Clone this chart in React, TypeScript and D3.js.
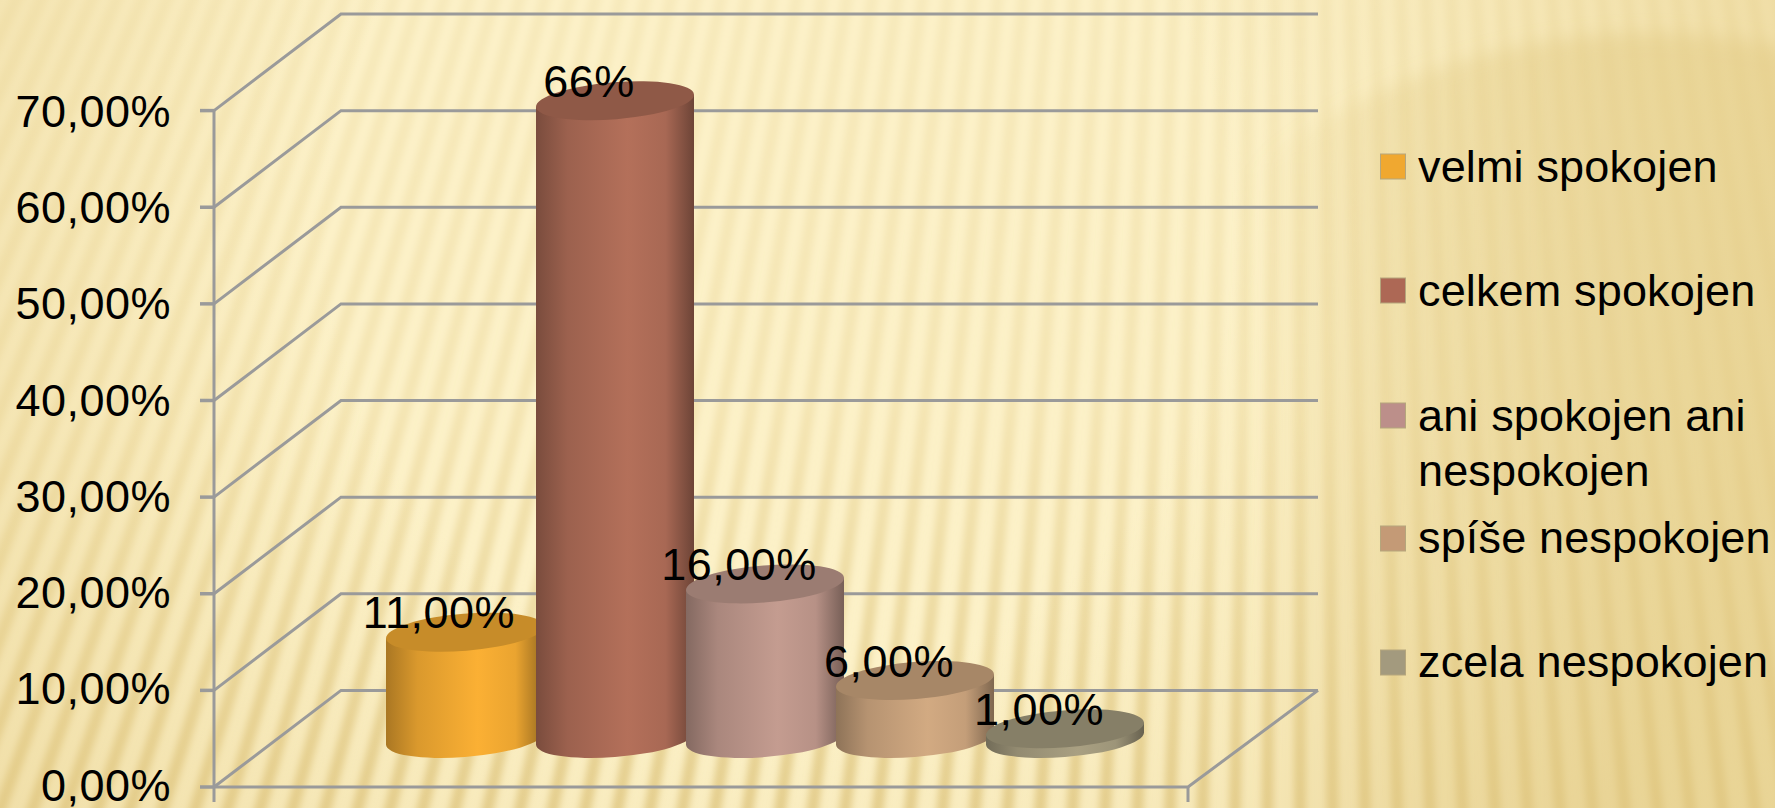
import React from "react";
import * as d3 from "d3";

const W = 1775;
const H = 808;

const categories = ["velmi spokojen", "celkem spokojen", "ani spokojen ani nespokojen", "spíše nespokojen", "zcela nespokojen"];
const values = [11, 66, 16, 6, 1];
const dataLabels = ["11,00%", "66%", "16,00%", "6,00%", "1,00%"];
const colors = ["#FBB034", "#B4705A", "#C49C90", "#D2AA82", "#A9A082"];
const swatchColors = ["#F0A830", "#AD6855", "#BC8F8A", "#C49A76", "#A39A7E"];
const legendLines = [["velmi spokojen"], ["celkem spokojen"], ["ani spokojen ani", "nespokojen"], ["spíše nespokojen"], ["zcela nespokojen"]];
const legendBaselines = [182, 306, 431, 553, 677];
const swatchTops = [154, 278, 403, 526, 650];
const ticks = [0, 10, 20, 30, 40, 50, 60, 70];

const FONT = "'Liberation Sans', Arial, sans-serif";
const y = d3.scaleLinear().domain([0, 70]).range([787, 110.6]);
const labelY = d3.scaleLinear().domain([0, 70]).range([800.5, 127]);
const x = d3.scalePoint<string>().domain(categories).range([465, 1065]);
const depthX = 127;
const depthY = 96.6;
const frontRight = 1188;
const backRight = 1318;
const axisX = 214;
const baseY = 738.5;
const tiltDeg = -4.6;
const rxE = 79.24;
const ryE = 18.5;
const halfW = 79;
const tangentDy = 6;

const fmt = (v: number) => d3.format(".2f")(v).replace(".", ",") + "%";

const apexX = 1300;
const apexY = -2700;
const stripeIdx = d3.range(-75, 32);

function cylPath(cx: number, top: number, bottom: number) {
  return `M${cx - halfW},${top + tangentDy}L${cx - halfW},${bottom + tangentDy}` +
    `A${rxE},${ryE} ${tiltDeg} 1 0 ${cx + halfW},${bottom - tangentDy}` +
    `L${cx + halfW},${top - tangentDy}Z`;
}

export default function App() {
  const grid = "#9A9A9A";
  return (
    <svg width={W} height={H} viewBox={`0 0 ${W} ${H}`} style={{ position: "absolute", left: 0, top: 0, display: "block" }}>
      <defs>
        <filter id="blurS" x="-5%" y="-5%" width="110%" height="110%"><feGaussianBlur stdDeviation="3.8" /></filter>
        <filter id="blurC" x="-5%" y="-5%" width="110%" height="110%"><feGaussianBlur stdDeviation="9" /></filter>
        <linearGradient id="stripeG" gradientUnits="userSpaceOnUse" x1="0" y1="0" x2="0" y2={H}>
          <stop offset="0" stopColor="#E6CF8C" stopOpacity="0.22" />
          <stop offset="0.5" stopColor="#E6CF8C" stopOpacity="0.36" />
          <stop offset="1" stopColor="#DCC27A" stopOpacity="0.75" />
        </linearGradient>
        <radialGradient id="vig" gradientUnits="userSpaceOnUse" cx="780" cy="230" r="1000">
          <stop offset="0.45" stopColor="#E2C880" stopOpacity="0" />
          <stop offset="1" stopColor="#E2C880" stopOpacity="0.45" />
        </radialGradient>
        <linearGradient id="blob" gradientUnits="userSpaceOnUse" x1="1250" y1="0" x2="1600" y2="0">
          <stop offset="0" stopColor="#D9BE70" stopOpacity="0" />
          <stop offset="0.4" stopColor="#D9BE70" stopOpacity="0.24" />
          <stop offset="1" stopColor="#D9BE70" stopOpacity="0.36" />
        </linearGradient>
        {colors.map((c, i) => (
          <linearGradient key={i} id={`cyl${i}`} x1="0" x2="1" y1="0" y2="0">
            <stop offset="0" stopColor={d3.color(c)!.darker(1.1).formatHex()} />
            <stop offset="0.2" stopColor={d3.color(c)!.darker(0.4).formatHex()} />
            <stop offset="0.58" stopColor={c} />
            <stop offset="0.82" stopColor={d3.color(c)!.darker(0.2).formatHex()} />
            <stop offset="1" stopColor={d3.color(c)!.darker(1.4).formatHex()} />
          </linearGradient>
        ))}
      </defs>

      <rect width={W} height={H} fill="#FCF1C8" />
      <circle cx={1650} cy={683} r={650} fill="url(#blob)" filter="url(#blurC)" />
      <g filter="url(#blurS)">
        {stripeIdx.map((k) => {
          const x0 = apexX + k * 25;
          const x1 = apexX + k * 25 * ((H + 20 - apexY) / -apexY);
          return <path key={k} d={`M${x0},-20L${x1},${H + 20}`} stroke="url(#stripeG)" strokeWidth={12} fill="none" />;
        })}
      </g>
      <rect width={W} height={H} fill="url(#vig)" />

      {/* walls and gridlines */}
      <g fill="none" stroke={grid} strokeWidth={3}>
        {ticks.map((t) => (
          <path key={t} d={`M${axisX},${y(t)}L${axisX + depthX},${y(t) - depthY}L${backRight},${y(t) - depthY}`} />
        ))}
        <path d={`M${axisX},${y(70)}L${axisX},802`} />
        <path d={`M${axisX},${y(0)}L${frontRight},${y(0)}L${backRight},${y(0) - depthY}`} />
        <path d={`M${frontRight},${y(0)}L${frontRight},802`} />
        {ticks.map((t) => <path key={t} d={`M200,${y(t)}L${axisX},${y(t)}`} strokeWidth={3.5} />)}
      </g>

      {/* cylinders */}
      {categories.map((c, i) => {
        const cx = x(c)!;
        const top = baseY - (y(0) - y(values[i]));
        return (
          <g key={c}>
            <path d={cylPath(cx, top, baseY)} fill={`url(#cyl${i})`} />
            <ellipse cx={cx} cy={top} rx={rxE} ry={ryE} transform={`rotate(${tiltDeg} ${cx} ${top})`} fill={d3.color(colors[i])!.darker(0.65).formatHex()} />
          </g>
        );
      })}

      {/* data labels */}
      <g fontFamily={FONT} fontSize={45} fill="#000" textAnchor="middle" letterSpacing={0.5}>
        {categories.map((c, i) => {
          const top = baseY - (y(0) - y(values[i]));
          return <text key={c} x={x(c)! - 26} y={top - 4}>{dataLabels[i]}</text>;
        })}
      </g>

      {/* y axis labels */}
      <g fontFamily={FONT} fontSize={45} fill="#000" textAnchor="end" letterSpacing={0.5}>
        {ticks.map((t) => <text key={t} x={171} y={labelY(t)}>{fmt(t)}</text>)}
      </g>

      {/* legend */}
      <g fontFamily={FONT} fontSize={45} fill="#000" letterSpacing={0.15}>
        {legendLines.map((lines, i) => (
          <g key={i}>
            <rect x={1380.5} y={swatchTops[i]} width={25} height={25} fill={swatchColors[i]} stroke="#B5A67C" strokeWidth={1} />
            {lines.map((l, j) => <text key={j} x={1418} y={legendBaselines[i] + j * 55}>{l}</text>)}
          </g>
        ))}
      </g>
    </svg>
  );
}
